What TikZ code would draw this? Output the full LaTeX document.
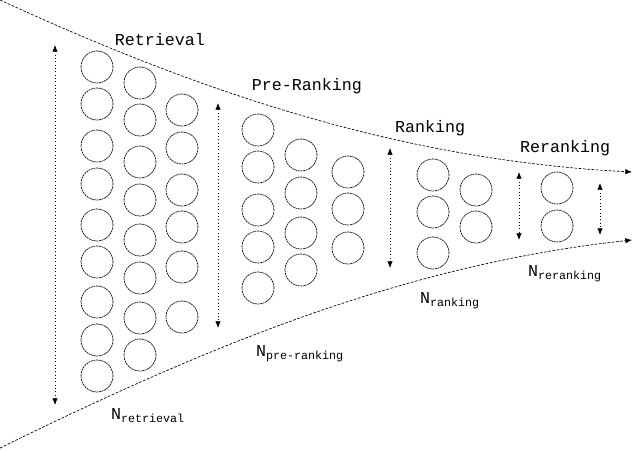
\documentclass[tikz,border=0pt]{standalone}
\usepackage{fontspec}
\setmainfont{Liberation Mono}
\usetikzlibrary{arrows.meta}
\begin{document}
\begin{tikzpicture}[x=0.75pt,y=-0.75pt,
  bound/.style={line width=0.5pt,dash pattern=on 2pt off 1.2pt,-{Latex[length=5pt,width=4pt]}},
  c/.style={circle,draw,dash pattern=on 1.5pt off 0.5pt,line width=0.5pt,minimum size=24pt,inner sep=0pt},
  dim/.style={line width=0.5pt,dotted,{Latex[length=5pt,width=4pt]}-{Latex[length=5pt,width=4pt]}},
  lab/.style={font=\fontsize{12.5}{14}\selectfont},
  sub/.style={font=\fontsize{12.5}{14}\selectfont}]
\useasboundingbox (0,0) rectangle (638,452);
\coordinate (t0) at (0,0); \coordinate (t1) at (632,172);
\coordinate (b0) at (0,448); \coordinate (b1) at (632,240);
\draw[bound] (t0) .. controls (200,92) and (400,160) .. (t1);
\draw[bound] (b0) .. controls (200,350) and (400,265) .. (b1);
\foreach \y [count=\i] in {67,104,146,184,225,262,302,340,376} \node[c] (a\i) at (97,\y) {};
\foreach \y [count=\i] in {83,120,162,200,240,278,318,355} \node[c] (b\i) at (140,\y) {};
\foreach \y [count=\i] in {110,148,190,227,267,317} \node[c] (cc\i) at (182,\y) {};
\foreach \y [count=\i] in {130,167,210,247,288} \node[c] (d\i) at (258,\y) {};
\foreach \y [count=\i] in {155,193,233,270} \node[c] (e\i) at (301,\y) {};
\foreach \y [count=\i] in {172,209,248} \node[c] (f\i) at (348,\y) {};
\foreach \y [count=\i] in {175,212,253} \node[c] (g\i) at (433,\y) {};
\foreach \y [count=\i] in {190,227} \node[c] (h\i) at (476,\y) {};
\foreach \y [count=\i] in {188,226} \node[c] (k\i) at (557,\y) {};
\coordinate (r1) at (55,45); \coordinate (r2) at (55,405);
\coordinate (p1) at (218,103); \coordinate (p2) at (218,328);
\coordinate (q1) at (390,148); \coordinate (q2) at (390,268);
\coordinate (s1) at (519,172); \coordinate (s2) at (519,240);
\coordinate (u1) at (600,183); \coordinate (u2) at (600,235);
\draw[dim] (r1) -- (r2);
\draw[dim] (p1) -- (p2);
\draw[dim] (q1) -- (q2);
\draw[dim] (s1) -- (s2);
\draw[dim] (u1) -- (u2);
\node[lab] (l1) at (160,40) {Retrieval};
\node[lab] (l2) at (307,86) {Pre-Ranking};
\node[lab] (l3) at (430,128) {Ranking};
\node[lab] (l4) at (565,148) {Reranking};
\node[sub] (n1) at (148,416) {N\textsubscript{retrieval}};
\node[sub] (n2) at (300,354) {N\textsubscript{pre-ranking}};
\node[sub] (n3) at (450,301) {N\textsubscript{ranking}};
\node[sub] (n4) at (565,274) {N\textsubscript{reranking}};
\end{tikzpicture}
\end{document}
